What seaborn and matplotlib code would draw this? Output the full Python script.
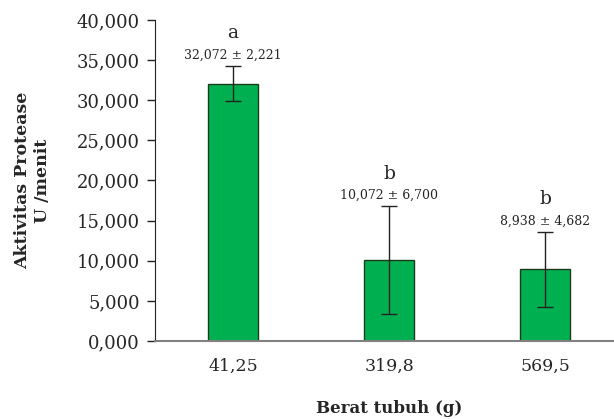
import matplotlib
matplotlib.use("Agg")
import matplotlib.pyplot as plt
import seaborn as sns
import pandas as pd

categories = ["41,25", "319,8", "569,5"]
means = [32.072, 10.072, 8.938]
sds = [2.221, 6.700, 4.682]
letters = ["a", "b", "b"]
yticks = [0, 5, 10, 15, 20, 25, 30, 35, 40]

sns.set_style("white")
plt.rcParams["font.family"] = ["DejaVu Serif"]

df = pd.DataFrame({"berat": categories, "aktivitas": means})

fig = plt.figure(figsize=(6.14, 4.19), dpi=100)
ax = fig.add_axes([155/614, 78/419, 468/614, 321/419])

sns.barplot(data=df, x="berat", y="aktivitas", ax=ax, color="#00B050",
            width=0.32, edgecolor="#1a3a1a", linewidth=1.0, saturation=1,
            errorbar=None)
ax.errorbar(range(len(means)), means, yerr=sds, fmt="none", ecolor="#222222",
            elinewidth=1.0, capsize=6, capthick=1.0)

for i, (m, s, l) in enumerate(zip(means, sds, letters)):
    lab = f"{m:.3f} ± {s:.3f}".replace(".", ",")
    ax.annotate(lab, (i, m + s), xytext=(0, 3), textcoords="offset points",
                ha="center", va="bottom", fontsize=9)
    ax.annotate(l, (i, m + s), xytext=(0, 17), textcoords="offset points",
                ha="center", va="bottom", fontsize=13.5)

ax.set_xlim(-0.5, 2.5)
ax.set_ylim(0, 40)
ax.set_yticks(yticks)
ax.set_yticklabels([f"{v:.3f}".replace(".", ",") for v in yticks], fontsize=13)
ax.set_xticks([-0.5, 0.5, 1.5], minor=False)
ax.set_xticklabels([])
ax.set_xticks([0, 1, 2], minor=True)
ax.set_xticklabels(categories, minor=True, fontsize=12.5)
ax.tick_params(axis="x", which="major", length=5, width=1, color="#808080", direction="out")
ax.tick_params(axis="x", which="minor", length=0, pad=12)
ax.tick_params(axis="y", length=6, width=1, color="#222222", direction="out", pad=5, left=True)

for sp in ["top", "right"]:
    ax.spines[sp].set_visible(False)
ax.spines["left"].set_color("#222222")
ax.spines["bottom"].set_color("#808080")
ax.spines["bottom"].set_linewidth(1.5)

ax.set_xlabel("Berat tubuh (g)", fontsize=12, fontweight="bold", labelpad=18)
ax.set_ylabel("Aktivitas Protease\nU /menit", fontsize=12.5, fontweight="bold", labelpad=18,
              linespacing=1.25)

fig.savefig("out.png", dpi=100)
